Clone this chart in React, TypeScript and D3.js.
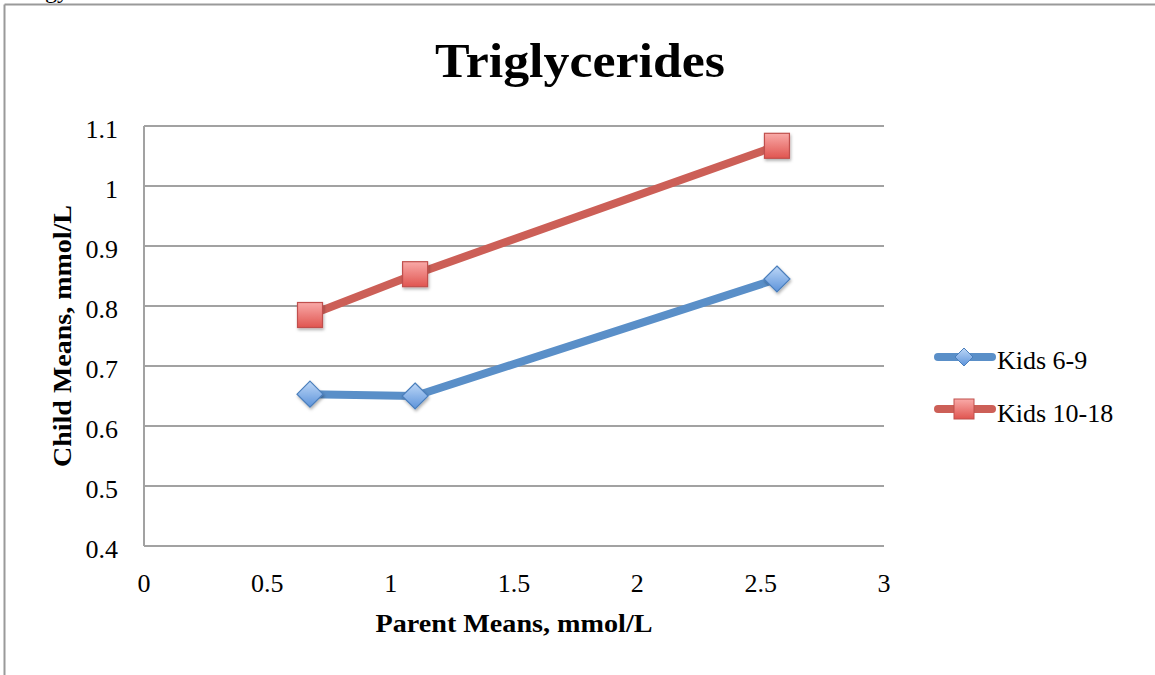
import React from "react";
import * as d3 from "d3";

const parentMeans = [0.673, 1.099, 2.566];
const kids6to9 = [0.653, 0.65, 0.845];
const kids10to18 = [0.785, 0.853, 1.067];
const seriesNames = ["Kids 6-9", "Kids 10-18"];
const xTicks = [0, 0.5, 1, 1.5, 2, 2.5, 3];
const yTicks = [0.4, 0.5, 0.6, 0.7, 0.8, 0.9, 1, 1.1];

const W = 1155;
const H = 675;
const plot = { left: 144, right: 884, top: 126, bottom: 546 };
const FONT = "'Liberation Serif', 'Times New Roman', serif";

export default function App() {
  const x = d3.scaleLinear().domain([0, 3]).range([plot.left, plot.right]);
  const y = d3.scaleLinear().domain([0.4, 1.1]).range([plot.bottom, plot.top]);
  const line = d3
    .line<number>()
    .x((_, i) => x(parentMeans[i]))
    .y((d) => y(d));

  const blue = "#5A8FC8";
  const red = "#CC5F57";
  const sq = 25;
  const dm = 13;

  const diamond = (cx: number, cy: number, r: number) =>
    `M${cx},${cy - r}L${cx + r},${cy}L${cx},${cy + r}L${cx - r},${cy}Z`;

  return (
    <svg
      width={W}
      height={H}
      style={{ position: "absolute", left: 0, top: 0, background: "#fff" }}
    >
      <defs>
        <linearGradient id="gRed" x1="0" y1="0" x2="0" y2="1">
          <stop offset="0" stopColor="#F9AAA8" />
          <stop offset="1" stopColor="#E05550" />
        </linearGradient>
        <linearGradient id="gBlue" x1="0" y1="0" x2="0" y2="1">
          <stop offset="0" stopColor="#BDD7F7" />
          <stop offset="1" stopColor="#5C93DA" />
        </linearGradient>
        <filter id="shadow" x="-40%" y="-40%" width="180%" height="180%">
          <feDropShadow dx="1" dy="2" stdDeviation="1.5" floodColor="#000" floodOpacity="0.3" />
        </filter>
      </defs>

      {/* cropped text above the frame (as in the reference) */}
      <text x={45} y={-2} fontFamily={FONT} fontSize={24} fill="#000">
        gy
      </text>

      {/* outer frame */}
      <line x1={4.5} y1={4.5} x2={W} y2={4.5} stroke="#9a9a9a" strokeWidth={2} />
      <line x1={4.5} y1={4.5} x2={4.5} y2={H} stroke="#9a9a9a" strokeWidth={2} />

      {/* title */}
      <text
        x={580}
        y={77}
        textAnchor="middle"
        fontFamily={FONT}
        fontWeight="bold"
        fontSize={48}
        textLength={290}
        lengthAdjust="spacingAndGlyphs"
        fill="#000"
      >
        Triglycerides
      </text>

      {/* gridlines */}
      {yTicks.map((t) => (
        <line
          key={t}
          x1={plot.left}
          x2={plot.right}
          y1={y(t)}
          y2={y(t)}
          stroke="#a2a2a2"
          strokeWidth={2}
        />
      ))}
      {/* y axis */}
      <line x1={plot.left} x2={plot.left} y1={plot.top} y2={plot.bottom} stroke="#a2a2a2" strokeWidth={2} />

      {/* y tick labels */}
      {yTicks.map((t) => (
        <text
          key={t}
          x={118}
          y={y(t) + 12}
          textAnchor="end"
          fontFamily={FONT}
          fontSize={26}
          fill="#000"
        >
          {String(t)}
        </text>
      ))}
      {/* x tick labels */}
      {xTicks.map((t) => (
        <text
          key={t}
          x={x(t)}
          y={592}
          textAnchor="middle"
          fontFamily={FONT}
          fontSize={26}
          fill="#000"
        >
          {String(t)}
        </text>
      ))}

      {/* axis titles */}
      <text
        x={514}
        y={632}
        textAnchor="middle"
        fontFamily={FONT}
        fontWeight="bold"
        fontSize={25.5}
        textLength={277}
        lengthAdjust="spacingAndGlyphs"
        fill="#000"
      >
        Parent Means, mmol/L
      </text>
      <text
        transform={`translate(71,${(plot.top + plot.bottom) / 2}) rotate(-90)`}
        textAnchor="middle"
        fontFamily={FONT}
        fontWeight="bold"
        fontSize={25.5}
        textLength={262}
        lengthAdjust="spacingAndGlyphs"
        fill="#000"
      >
        Child Means, mmol/L
      </text>

      {/* series lines */}
      <path d={line(kids6to9) || ""} fill="none" stroke={blue} strokeWidth={8} strokeLinejoin="round" />
      <path d={line(kids10to18) || ""} fill="none" stroke={red} strokeWidth={8} strokeLinejoin="round" />

      {/* markers */}
      {kids6to9.map((v, i) => (
        <path
          key={"b" + i}
          d={diamond(x(parentMeans[i]), y(v), dm)}
          fill="url(#gBlue)"
          stroke="#4A7EBB"
          strokeWidth={1.2}
          filter="url(#shadow)"
        />
      ))}
      {kids10to18.map((v, i) => (
        <rect
          key={"r" + i}
          x={x(parentMeans[i]) - sq / 2}
          y={y(v) - sq / 2}
          width={sq}
          height={sq}
          fill="url(#gRed)"
          stroke="#C0504D"
          strokeWidth={1.2}
          filter="url(#shadow)"
        />
      ))}

      {/* legend */}
      <g>
        <line x1={938} x2={992} y1={357} y2={357} stroke={blue} strokeWidth={8} strokeLinecap="round" />
        <path d={diamond(964, 357, 9)} fill="url(#gBlue)" stroke="#4A7EBB" strokeWidth={1} />
        <text x={997} y={369} fontFamily={FONT} fontSize={26} fill="#000">
          {seriesNames[0]}
        </text>
        <line x1={938} x2={992} y1={409} y2={409} stroke={red} strokeWidth={8} strokeLinecap="round" />
        <rect x={954} y={399} width={20} height={20} fill="url(#gRed)" stroke="#C0504D" strokeWidth={1} />
        <text x={997} y={422} fontFamily={FONT} fontSize={26} fill="#000">
          {seriesNames[1]}
        </text>
      </g>
    </svg>
  );
}
